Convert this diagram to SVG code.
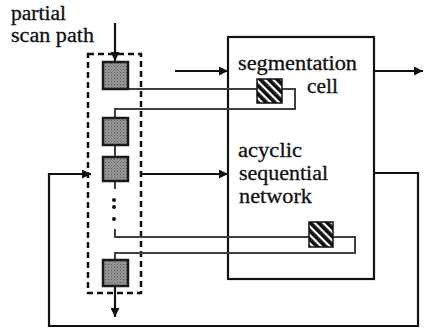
<svg xmlns="http://www.w3.org/2000/svg" width="425" height="328" viewBox="0 0 425 328">
<style>
.t{font-family:"Liberation Serif","Times New Roman",serif;font-size:20px;fill:#111;stroke:#111;stroke-width:0.3}
.ln{fill:none;stroke:#111;stroke-width:2.2}
.wire{fill:none;stroke:#404040;stroke-width:2}
.ff{fill:url(#stip);stroke:#1a1a1a;stroke-width:2.5}
.seg{fill:url(#hatch);stroke:#111;stroke-width:1.5}
.dash{fill:none;stroke:#111;stroke-width:2.5;stroke-dasharray:6 4}
</style>
<defs>
<pattern id="stip" patternUnits="userSpaceOnUse" width="3" height="3">
<rect width="3" height="3" fill="#9c9c9c"/>
<rect x="0" y="0" width="1" height="1" fill="#505050"/>
<rect x="1.5" y="1.5" width="1" height="1" fill="#5c5c5c"/>
</pattern>
<pattern id="hatch" patternUnits="userSpaceOnUse" width="6" height="6" patternTransform="rotate(45)">
<rect width="6" height="6" fill="#111"/>
<rect y="0" width="6" height="2.2" fill="#fff"/>
</pattern>
<marker id="ah" viewBox="0 0 10 10" refX="10" refY="5" markerWidth="9" markerHeight="9" markerUnits="userSpaceOnUse" orient="auto">
<path d="M0,0 L10,5 L0,10 Z" fill="#111"/>
</marker>
</defs>
<rect width="425" height="328" fill="#fff"/>

<g id="label-partial-scan-path">
<text class="t" x="11" y="20" textLength="55" lengthAdjust="spacingAndGlyphs">partial</text>
<text class="t" x="11" y="42" textLength="83" lengthAdjust="spacingAndGlyphs">scan path</text>
</g>

<g id="scan-path-box">
<rect class="dash" x="88" y="54" width="53" height="239"/>
</g>

<g id="network-box">
<rect x="228" y="37" width="146" height="242" fill="none" stroke="#111" stroke-width="2.2"/>
<text class="t" x="238" y="157" textLength="64" lengthAdjust="spacingAndGlyphs">acyclic</text>
<text class="t" x="239" y="180" textLength="89" lengthAdjust="spacingAndGlyphs">sequential</text>
<text class="t" x="239" y="203" textLength="73" lengthAdjust="spacingAndGlyphs">network</text>
</g>

<g id="segmentation-label">
<text class="t" x="238" y="70" textLength="119" lengthAdjust="spacingAndGlyphs">segmentation</text>
<text class="t" x="307" y="93" textLength="31" lengthAdjust="spacingAndGlyphs">cell</text>
</g>

<g id="connectors">
<line class="ln" x1="115" y1="23" x2="115" y2="61" marker-end="url(#ah)"/>
<line class="ln" x1="175" y1="71" x2="228" y2="71" marker-end="url(#ah)"/>
<line class="ln" x1="374" y1="71" x2="423" y2="71" marker-end="url(#ah)"/>
<line class="ln" x1="141" y1="174" x2="228" y2="174" marker-end="url(#ah)"/>
<polyline class="ln" points="374,173 418,173 418,326 49,326 49,174 91,174" marker-end="url(#ah)"/>
<line class="ln" x1="115" y1="286" x2="115" y2="317" marker-end="url(#ah)"/>
<line class="wire" x1="115" y1="145" x2="115" y2="157"/>
<line class="wire" x1="115" y1="181" x2="115" y2="189"/>
<polyline class="wire" points="115,89 257,89"/>
<polyline class="wire" points="282,89 295,89 295,109 115,109 115,118"/>
<polyline class="wire" points="115,229 115,237 309,237"/>
<polyline class="wire" points="333,237 355,237 355,253 115,253 115,260"/>
<circle cx="114" cy="200" r="2" fill="#111"/>
<circle cx="114" cy="207" r="2" fill="#111"/>
<circle cx="114" cy="219" r="2" fill="#111"/>
</g>

<g id="ff1"><rect class="ff" x="103" y="62" width="25" height="27"/></g>
<g id="ff2"><rect class="ff" x="103" y="118" width="25" height="27"/></g>
<g id="ff3"><rect class="ff" x="103" y="157" width="25" height="24"/></g>
<g id="ff4"><rect class="ff" x="103" y="260" width="25" height="26"/></g>
<g id="seg-cell-1"><rect class="seg" x="257" y="79" width="25" height="24"/></g>
<g id="seg-cell-2"><rect class="seg" x="309" y="222" width="24" height="25"/></g>
</svg>
